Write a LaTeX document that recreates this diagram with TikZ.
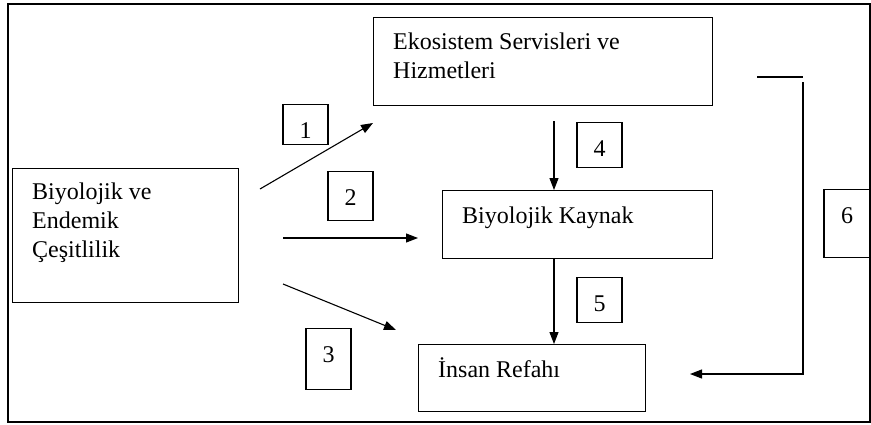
\documentclass[tikz,border=0pt]{standalone}
\usepackage{fontspec}
\setmainfont{Liberation Serif}
\usetikzlibrary{arrows.meta}

\begin{document}
\begin{tikzpicture}[x=1pt,y=-1pt,
  box/.style={draw,line width=1.3pt,inner sep=0pt,anchor=north west},
  numbox/.style={draw,line width=1.3pt,inner sep=0pt,anchor=north,minimum width=45pt,
    text height=34pt,font=\fontsize{24}{29}\selectfont},
  txt/.style={anchor=base west,inner sep=0pt,align=left,font=\fontsize{24}{29}\selectfont},
  arr/.style={line width=1.1pt,-{Triangle[length=12pt,width=9pt]}}]
\useasboundingbox (0,0) rectangle (871,424);
\draw[line width=2pt] (8,4) rectangle (870,422);
% main boxes
\node[box,minimum width=226pt,minimum height=134pt] (bio) at (12,168) {};
\node[box,minimum width=339pt,minimum height=88pt] (eko) at (373,17) {};
\node[box,minimum width=270pt,minimum height=68pt] (kay) at (442,190) {};
\node[box,minimum width=227pt,minimum height=67pt] (ins) at (418,344) {};
% text sits on the baseline of its last line
\node[txt] (biotxt) at ([shift={(20,89)}]bio.north west) {Biyolojik ve\\Endemik\\Çeşitlilik};
\node[txt] (ekotxt) at ([shift={(20,61)}]eko.north west) {Ekosistem Servisleri ve\\Hizmetleri};
\node[txt] (kaytxt) at ([shift={(20,33)}]kay.north west) {Biyolojik Kaynak};
\node[txt] (instxt) at ([shift={(20,33)}]ins.north west) {İnsan Refahı};
% numbered boxes
\node[numbox,text depth=6pt] (n1) at (305.5,104) {1};
\node[numbox,text depth=15pt] (n2) at (350.5,171) {2};
\node[numbox,text depth=27pt] (n3) at (328.5,328) {3};
\node[numbox,text depth=11pt] (n4) at (599.5,122) {4};
\node[numbox,text depth=11pt] (n5) at (599.5,277) {5};
\node[numbox,minimum width=46pt,text depth=34pt] (n6) at (847,189) {6};
% arrows
\coordinate (s1) at (260,189);
\coordinate (e1) at (373,123);
\coordinate (s2) at (283,238);
\coordinate (e2) at (418,238);
\coordinate (s3) at (283,284);
\coordinate (e3) at (396,330);
\coordinate (s4) at (554,121);
\draw[arr] (s1) -- (e1);
\draw[arr] (s2) -- (e2);
\draw[arr] (s3) -- (e3);
\draw[arr] (s4) -- (s4 |- kay.north);
\draw[arr] (s4 |- kay.south) -- (s4 |- ins.north);
\coordinate (t6a) at (757,77);
\coordinate (t6b) at (803,77);
\coordinate (s6) at (803,82);
\coordinate (e6) at (690,374);
\draw[line width=1.1pt] (t6a) -- (t6b);
\draw[arr] (s6) |- (e6);
\end{tikzpicture}
\end{document}
